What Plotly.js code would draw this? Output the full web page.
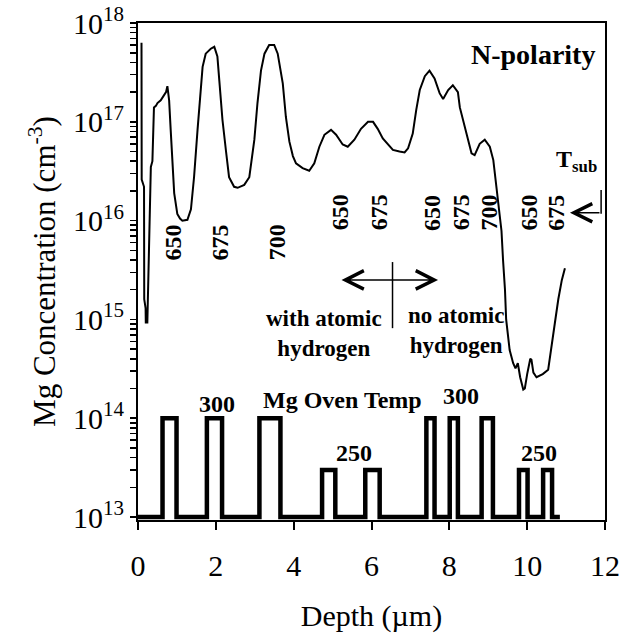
<!DOCTYPE html>
<html>
<head>
<meta charset="utf-8">
<script src="https://cdn.plot.ly/plotly-3.0.1.min.js"></script>
<style>html,body{margin:0;padding:0;background:#fff;}#chart{width:629px;height:636px;}</style>
</head>
<body>
<div id="chart"></div>
<script>
// SIMS Mg depth profile (depth in µm, concentration in cm^-3)
const depth = [0.09,0.095,0.155,0.16,0.195,0.20,0.24,0.25,0.27,0.29,0.33,0.37,0.41,0.46,0.50,0.584,0.67,0.72,0.755,0.80,0.84,0.88,0.93,1.01,1.08,1.14,1.27,1.36,1.44,1.53,1.59,1.66,1.74,1.87,1.96,2.04,2.09,2.17,2.26,2.34,2.47,2.56,2.73,2.86,2.99,3.07,3.16,3.25,3.37,3.50,3.59,3.72,3.80,3.89,3.98,4.06,4.23,4.40,4.53,4.66,4.79,4.96,5.09,5.26,5.39,5.56,5.73,5.91,6.04,6.16,6.29,6.42,6.55,6.72,6.85,6.94,7.06,7.15,7.24,7.37,7.49,7.62,7.75,7.84,7.97,8.09,8.22,8.27,8.44,8.57,8.65,8.78,8.91,9.04,9.13,9.21,9.28,9.34,9.38,9.43,9.46,9.51,9.55,9.64,9.70,9.76,9.82,9.90,9.94,10.00,10.08,10.11,10.16,10.24,10.40,10.54,10.63,10.71,10.80,10.89,10.97];
const mgConc = [6.3e17,2.6e16,2.2e16,1.6e15,1.3e15,9.3e14,9.3e14,1.4e15,1.8e15,6.3e15,3.5e16,4.0e16,1.4e17,1.45e17,1.55e17,1.65e17,1.85e17,2.0e17,2.3e17,1.65e17,8.3e16,3.8e16,1.9e16,1.17e16,1.05e16,1.0e16,1.02e16,1.3e16,2.75e16,8.3e16,1.8e17,3.6e17,4.9e17,5.5e17,5.75e17,4.6e17,2.6e17,1.05e17,5.1e16,2.75e16,2.2e16,2.15e16,2.3e16,2.75e16,6.6e16,1.55e17,3.3e17,4.9e17,6.0e17,6.0e17,4.9e17,2.45e17,1.12e17,6.3e16,4.5e16,3.8e16,3.4e16,3.2e16,3.8e16,5.6e16,7.4e16,8.3e16,7.4e16,5.9e16,5.6e16,6.6e16,8.5e16,1.0e17,1.0e17,8.5e16,6.8e16,5.9e16,5.2e16,5.0e16,4.9e16,5.4e16,7.6e16,1.32e17,2.1e17,2.9e17,3.3e17,2.75e17,1.95e17,1.7e17,2.1e17,2.35e17,2.0e17,1.4e17,7.6e16,4.8e16,4.6e16,6.0e16,6.6e16,5.6e16,4.1e16,2.2e16,1.17e16,7.9e15,4.0e15,2.0e15,1.0e15,7.1e14,4.9e14,3.6e14,3.2e14,3.6e14,2.6e14,1.95e14,2.0e14,2.8e14,4.0e14,3.9e14,2.9e14,2.6e14,2.8e14,3.1e14,5.2e14,9.1e14,1.6e15,2.5e15,3.3e15];

// Mg oven temperature schedule drawn on the same scale (step trace)
const ovenDepth = [0,0.63,0.99,1.77,2.16,3.12,3.66,4.73,5.07,5.84,6.21,7.41,7.62,8.01,8.22,8.83,9.12,9.79,10.01,10.41,10.64,10.84];
const ovenConc  = [1e13,1e14,1e13,1e14,1e13,1e14,1e13,3e13,1e13,3e13,1e13,1e14,1e13,1e14,1e13,1e14,1e13,3e13,1e13,3e13,1e13,1e13];

// Axis tick labels
const yDecades = [13, 14, 15, 16, 17, 18];
const xTicks = [0, 2, 4, 6, 8, 10, 12];

// Text labels
const tsubLabelsA = ['650','675','700'];
const tsubLabelsB = ['650','675','650','675','700','650','675'];
const ovenTempLabels = ['300','250','300','250'];

// y ticks: labelled decades plus unlabelled 2..9 minor positions
const yTickVals = [], yTickText = [];
yDecades.forEach((e, i) => {
  yTickVals.push(Math.pow(10, e)); yTickText.push('10<sup>' + e + '</sup>');
  if (i < yDecades.length - 1) for (let m = 2; m <= 9; m++) { yTickVals.push(m * Math.pow(10, e)); yTickText.push(''); }
});

const FONT = 'Liberation Serif, Times New Roman, serif';
const BOLD = (s) => '<b>' + s + '</b>';

const traces = [
  {x: depth, y: mgConc, type: 'scatter', mode: 'lines',
   line: {color: '#000', width: 2}, hoverinfo: 'skip'},
  {x: ovenDepth, y: ovenConc, type: 'scatter', mode: 'lines',
   line: {color: '#000', width: 4.5, shape: 'hv'}, hoverinfo: 'skip'}
];

const ann = [];
function addText(text, x, ly, size, extra) {
  ann.push(Object.assign({text: BOLD(text), x: x, y: ly, xref: 'x', yref: 'y',
    showarrow: false, font: {family: FONT, size: size, color: '#000'},
    xanchor: 'center', yanchor: 'middle'}, extra || {}));
}
// rotated substrate temperature labels
const posA = [0.9, 2.11, 3.57];
tsubLabelsA.forEach((t, i) => addText(t, posA[i], 15.78, 24, {textangle: -90}));
const posB = [5.18, 6.18, 7.56, 8.29, 9.01, 10.04, 10.74];
tsubLabelsB.forEach((t, i) => addText(t, posB[i], 16.08, 24, {textangle: -90}));
// oven temperature labels
const posOven = [[2.02, 14.14], [5.54, 13.65], [8.31, 14.23], [10.3, 13.65]];
ovenTempLabels.forEach((t, i) => addText(t, posOven[i][0], posOven[i][1], 24));
addText('Mg Oven Temp', 5.25, 14.18, 24);
addText('N-polarity', 10.15, 17.68, 28);
addText('T<sub>sub</sub>', 11.28, 16.60, 24);
addText('with atomic<br>hydrogen', 4.79, 14.86, 23);
addText('no atomic<br>hydrogen', 8.16, 14.89, 23);

// arrows
ann.push({x: 11.10, y: 16.08, xref: 'x', yref: 'y', ax: 31, ay: 0, text: '',
  showarrow: true, arrowhead: 5, arrowsize: 2.4, arrowwidth: 1.5, arrowcolor: '#000', standoff: 0});
ann.push({x: 5.23, y: 15.40, xref: 'x', yref: 'y', ax: 98, ay: 0, text: '',
  showarrow: true, arrowhead: 5, arrowside: 'end+start', arrowsize: 2.4, arrowwidth: 1.5, arrowcolor: '#000', standoff: 0, startstandoff: 0});

const shapes = [
  // T_sub bracket vertical segment
  {type: 'line', xref: 'x', yref: 'paper', x0: 11.90, x1: 11.90, y0: 0.664, y1: 0.616, line: {color: '#000', width: 1.5}},
  // divider between regions
  {type: 'line', xref: 'x', yref: 'paper', x0: 6.54, x1: 6.54, y0: 0.519, y1: 0.386, line: {color: '#000', width: 1.5}}
];

const layout = {
  width: 629, height: 636,
  margin: {l: 138, r: 24, t: 23, b: 116},
  paper_bgcolor: '#fff', plot_bgcolor: '#fff',
  showlegend: false,
  font: {family: FONT, color: '#000', size: 30},
  xaxis: {
    range: [0, 12], tickmode: 'array', tickvals: xTicks, ticktext: xTicks.map(String),
    showgrid: false, zeroline: false,
    showline: true, linecolor: '#000', linewidth: 2, mirror: true,
    ticks: 'outside', ticklen: 8, tickwidth: 2, tickcolor: '#000',
    ticklabelstandoff: 10,
    tickfont: {family: FONT, size: 30, color: '#000'},
    title: {text: 'Depth (µm)', font: {family: FONT, size: 30, color: '#000'}, standoff: 24}
  },
  yaxis: {
    type: 'log', range: [12.97, 18.0005],
    tickmode: 'array', tickvals: yTickVals, ticktext: yTickText,
    showgrid: false, zeroline: false,
    showline: true, linecolor: '#000', linewidth: 2, mirror: true,
    ticks: 'outside', ticklen: 6, tickwidth: 1.5, tickcolor: '#000',
    tickfont: {family: FONT, size: 30, color: '#000'},
    title: {text: 'Mg Concentration (cm<sup>-3</sup>)', font: {family: FONT, size: 31, color: '#000'}, standoff: 8}
  },
  annotations: ann,
  shapes: shapes
};

Plotly.newPlot('chart', traces, layout, {staticPlot: true, displayModeBar: false});
</script>
</body>
</html>
